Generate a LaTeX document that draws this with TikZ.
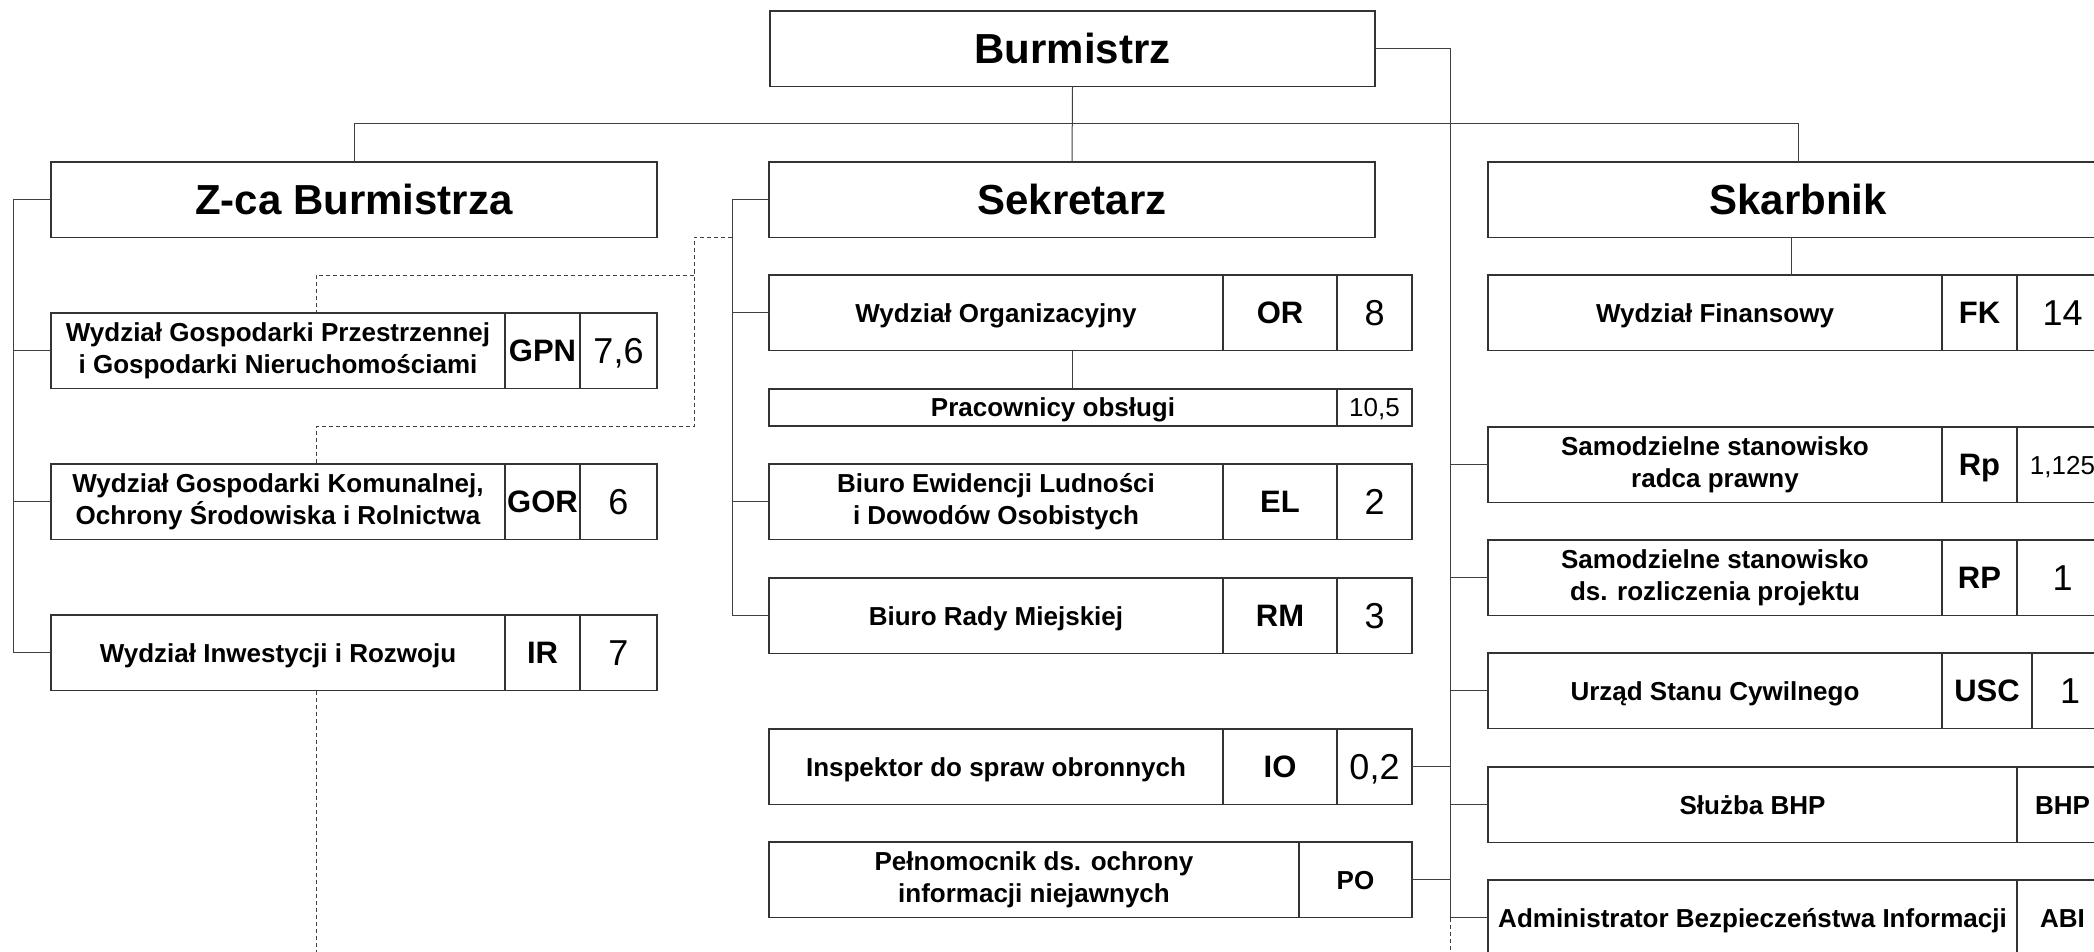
\documentclass[tikz,border=0pt]{standalone}
\usepackage{fontspec}
\setmainfont{Liberation Sans}
\usetikzlibrary{calc}

\tikzset{
  box/.style={draw=black!80, line width=1.2pt, inner sep=0pt, outer sep=0pt, anchor=north west,
    align=center, minimum height=75.5pt, font=\bfseries\fontsize{26}{32}\selectfont},
  one/.style={text height=24pt, text depth=5.4pt},
  two/.style={},
  head/.style={box, text height=38pt, text depth=8pt, font=\bfseries\fontsize{42}{48}\selectfont},
  kodbox/.style={box, text height=26pt, text depth=3.8pt, font=\bfseries\fontsize{31}{36}\selectfont},
  kodsmall/.style={box, one},
  numbox/.style={box, text height=30pt, text depth=4.2pt, font=\fontsize{36}{40}\selectfont},
  numsmall/.style={box, one, font=\fontsize{26}{30}\selectfont},
  link/.style={draw=black!75, line width=1pt},
  dashline/.style={link, dash pattern=on 4pt off 3pt},
}

\begin{document}
\begin{tikzpicture}[x=1pt,y=-1pt]
    \useasboundingbox (0,0) rectangle (2094,952);
    \clip (0,0) rectangle (2094,952);

    % heads
    \node[head, minimum width=605pt] (burm) at (770,11) {Burmistrz};
    \node[head, minimum width=606pt] (zca) at (51,162) {Z-ca Burmistrza};
    \node[head, minimum width=606pt] (sekr) at (769,162) {Sekretarz};
    \node[head, minimum width=620pt] (skarb) at (1488,162) {Skarbnik};

    % Z-ca Burmistrza
    \foreach \n/\y/\t/\o/\k/\v in {
        gpn/313/{Wydział Gospodarki Przestrzennej\\i Gospodarki Nieruchomościami}/two/GPN/{7,6},
        gor/464/{Wydział Gospodarki Komunalnej,\\Ochrony Środowiska i Rolnictwa}/two/GOR/6,
        ir/615/{Wydział Inwestycji i Rozwoju}/one/IR/7}{
        \node[box, \o, minimum width=454pt] (\n) at (51,\y) {\t};
        \node[kodbox, minimum width=75pt] (\n kod) at (\n.north east) {\k};
        \node[numbox, minimum width=77pt] (\n num) at (\n kod.north east) {\v};
    }

    % Sekretarz
    \foreach \n/\y/\t/\o/\k/\v in {
        or/275/{Wydział Organizacyjny}/one/OR/8,
        el/464/{Biuro Ewidencji Ludności\\i Dowodów Osobistych}/two/EL/2,
        rm/578/{Biuro Rady Miejskiej}/one/RM/3,
        io/729/{Inspektor do spraw obronnych}/one/IO/{0,2}}{
        \node[box, \o, minimum width=454pt] (\n) at (769,\y) {\t};
        \node[kodbox, minimum width=114pt] (\n kod) at (\n.north east) {\k};
        \node[numbox, minimum width=75pt] (\n num) at (\n kod.north east) {\v};
    }
    \node[box, one, minimum width=568pt, minimum height=37pt] (prac) at (769,389) {Pracownicy obsługi};
    \node[numsmall, minimum width=75pt, minimum height=37pt] (pracnum) at (prac.north east) {10,5};
    \node[box, minimum width=530pt] (po) at (769,842) {Pełnomocnik ds. ochrony\\informacji niejawnych};
    \node[kodsmall, minimum width=113pt] (pokod) at (po.north east) {PO};

    % Skarbnik
    \foreach \n/\y/\t/\o/\k/\v/\s in {
        fk/275/{Wydział Finansowy}/one/FK/14/numbox,
        rpr/427/{Samodzielne stanowisko\\radca prawny}/two/Rp/{1,125}/numsmall,
        rpj/540/{Samodzielne stanowisko\\ds. rozliczenia projektu}/two/RP/1/numbox}{
        \node[box, \o, minimum width=454pt] (\n) at (1488,\y) {\t};
        \node[kodbox, minimum width=75pt] (\n kod) at (\n.north east) {\k};
        \node[\s, minimum width=91pt] (\n num) at (\n kod.north east) {\v};
    }
    \node[box, one, minimum width=454pt] (usc) at (1488,653) {Urząd Stanu Cywilnego};
    \node[kodbox, minimum width=90pt] (usckod) at (usc.north east) {USC};
    \node[numbox, minimum width=76pt] (uscnum) at (usckod.north east) {1};
    \node[box, one, minimum width=529pt] (bhp) at (1488,767) {Służba BHP};
    \node[kodsmall, minimum width=91pt] (bhpkod) at (bhp.north east) {BHP};
    \node[box, one, minimum width=529pt] (abi) at (1488,880) {Administrator Bezpieczeństwa Informacji};
    \node[kodsmall, minimum width=91pt] (abikod) at (abi.north east) {ABI};

    % buses
    \coordinate (lbus) at (13,0);
    \coordinate (sbus) at (732,0);
    \coordinate (rbus) at (1450,0);
    \coordinate (dx) at (316,0);
    \coordinate (dA) at (694,275);
    \coordinate (dB) at (694,426);

    \draw[link] (burm.south) -- (sekr.north);
    \draw[link] (zca.north) -- ++(0,-38) -| (skarb.north);
    \draw[link] (burm.east) -| (rbus |- abi.west) -- (abi.west);
    \draw[link] ([xshift=-7pt]skarb.south) -- ++(0,38);
    \draw[link] (zca.west) -| (lbus |- ir.west) -- (ir.west);
    \foreach \n in {gpn,gor} \draw[link] (lbus |- \n.west) -- (\n.west);
    \draw[link] (sekr.west) -| (sbus |- rm.west) -- (rm.west);
    \foreach \n in {or,el} \draw[link] (sbus |- \n.west) -- (\n.west);
    \draw[link] (sekr.south |- or.south) -- (sekr.south |- prac.north);
    \foreach \n in {ionum,pokod} \draw[link] (\n.east) -- (rbus |- \n.east);
    \foreach \n in {rpr,rpj,usc,bhp} \draw[link] (rbus |- \n.west) -- (\n.west);

    % dashed
    \draw[dashline] (sbus |- sekr.south) -| (dB) -| (dx |- gor.north);
    \draw[dashline] (dA) -| (dx |- gpn.north);
    \draw[dashline] (dx |- ir.south) -- ++(0,300);
    \draw[dashline] (rbus |- abi.west) -- ++(0,60);
\end{tikzpicture}
\end{document}
